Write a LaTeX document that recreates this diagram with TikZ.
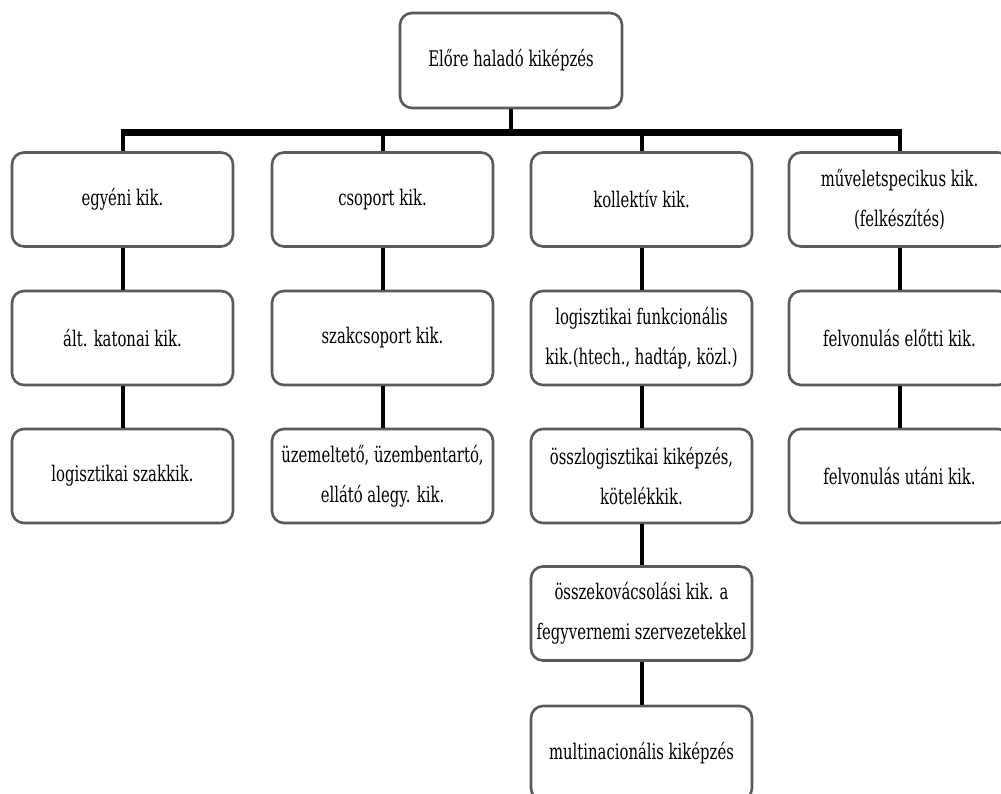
\documentclass[tikz,border=0pt]{standalone}
\usepackage{fontspec}
\setmainfont[FakeStretch=0.69]{DejaVu Serif}
\begin{document}
\begin{tikzpicture}[x=1pt,y=-1pt,
  box/.style={draw={rgb,255:red,90;green,90;blue,90}, line width=2.6pt, rounded corners=12pt,
    fill=white, minimum width=221pt, minimum height=94pt, align=center, inner sep=2pt,
    font=\fontsize{21.5}{40}\selectfont},
  conn/.style={line width=4pt, black},
  busline/.style={line width=6.5pt, black}]
\useasboundingbox (0,0) rectangle (1001,794);
\fill[white] (0,0) rectangle (1001,794);
\coordinate (bus) at (0,132.5);
% top
\node[box, minimum width=222pt, minimum height=95pt] (top) at (511,60.5) {Előre haladó kiképzés};
% row 1
\node[box] (a1) at (122.5,199.5) {egyéni kik.};
\node[box] (a2) at (382.5,199.5) {csoport kik.};
\node[box] (a3) at (641.5,199.5) {kollektív kik.};
\node[box] (a4) at (899.5,199.5) {műveletspecikus kik.\\(felkészítés)};
% row 2
\node[box] (b1) at (122.5,338) {ált. katonai kik.};
\node[box] (b2) at (382.5,338) {szakcsoport kik.};
\node[box] (b3) at (641.5,338) {logisztikai funkcionális\\kik.(htech., hadtáp, közl.)};
\node[box] (b4) at (899.5,338) {felvonulás előtti kik.};
% row 3
\node[box] (c1) at (122.5,476) {logisztikai szakkik.};
\node[box] (c2) at (382.5,476) {üzemeltető, üzembentartó,\\ellátó alegy. kik.};
\node[box] (c3) at (641.5,476) {összlogisztikai kiképzés,\\kötelékkik.};
\node[box] (c4) at (899.5,476) {felvonulás utáni kik.};
% col 3 lower
\node[box] (d3) at (641.5,613.5) {összekovácsolási kik. a\\fegyvernemi szervezetekkel};
\node[box] (e3) at (641.5,753) {multinacionális kiképzés};
% connectors
\draw[conn] (top.south) -- (top.south |- bus);
\draw[busline] ([xshift=-2pt]a1.north |- bus) -- ([xshift=2pt]a4.north |- bus);
\foreach \n in {a1,a2,a3,a4} {\draw[conn] (\n.north |- bus) -- (\n.north);}
\draw[conn] (a1.south) -- (b1.north);
\draw[conn] (b1.south) -- (c1.north);
\draw[conn] (a2.south) -- (b2.north);
\draw[conn] (b2.south) -- (c2.north);
\draw[conn] (a3.south) -- (b3.north);
\draw[conn] (b3.south) -- (c3.north);
\draw[conn] (c3.south) -- (d3.north);
\draw[conn] (d3.south) -- (e3.north);
\draw[conn] (a4.south) -- (b4.north);
\draw[conn] (b4.south) -- (c4.north);
\end{tikzpicture}
\end{document}
